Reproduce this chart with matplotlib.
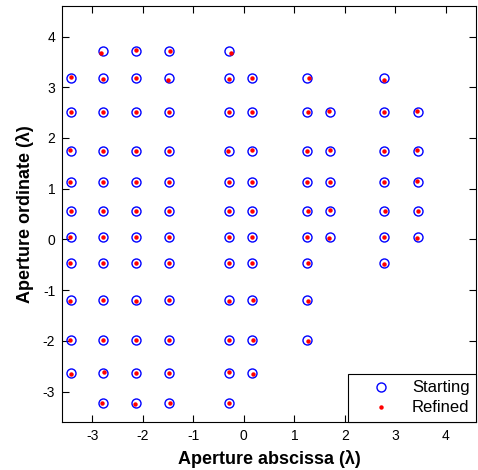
import matplotlib.pyplot as plt

plt.rcParams['font.family'] = ['Liberation Sans', 'DejaVu Sans']
plt.rcParams['axes.unicode_minus'] = False

# aperture grid (in wavelengths)
cols = [-3.43, -2.80, -2.14, -1.48, -0.29, 0.17, 1.26, 1.70, 2.78, 3.44]
rows = [3.71, 3.18, 2.52, 1.74, 1.13, 0.57, 0.04, -0.47, -1.20, -1.99, -2.63, -3.23]

# which columns are populated in each row (indices into cols)
row_cols = [
    [1, 2, 3, 4],
    [0, 1, 2, 3, 4, 5, 6, 8],
    [0, 1, 2, 3, 4, 5, 6, 7, 8, 9],
    [0, 1, 2, 3, 4, 5, 6, 7, 8, 9],
    [0, 1, 2, 3, 4, 5, 6, 7, 8, 9],
    [0, 1, 2, 3, 4, 5, 6, 7, 8, 9],
    [0, 1, 2, 3, 4, 5, 6, 7, 8, 9],
    [0, 1, 2, 3, 4, 5, 6, 8],
    [0, 1, 2, 3, 4, 5, 6],
    [0, 1, 2, 3, 4, 5, 6],
    [0, 1, 2, 3, 4, 5],
    [1, 2, 3, 4],
]

# refined shifts (dx, dy) per point, same order as row_cols
row_shift = [
    [(-0.03, -0.03), (0.0, 0.02), (0.01, 0.0), (0.03, -0.03)],
    [(0.0, 0.02), (0.0, -0.02), (0.0, 0.0), (-0.02, -0.03), (0.0, -0.02), (0.0, 0.01), (0.04, 0.0), (0.0, -0.03)],
    [(0.0, 0.0), (0.0, 0.0), (0.01, 0.0), (0.0, 0.0), (0.0, 0.0), (0.0, 0.0), (0.01, 0.0), (-0.01, 0.01), (-0.01, 0.0), (-0.01, 0.01)],
    [(-0.02, 0.02), (0.0, 0.0), (0.0, 0.0), (0.0, 0.0), (-0.02, 0.0), (0.0, 0.02), (0.0, 0.0), (0.0, 0.02), (0.0, 0.0), (-0.01, 0.02)],
    [(-0.01, 0.0), (0.0, 0.0), (0.0, 0.0), (0.0, 0.0), (0.0, 0.0), (0.0, 0.0), (0.0, 0.0), (0.0, 0.0), (0.0, 0.0), (-0.01, 0.02)],
    [(0.0, 0.0), (0.0, 0.0), (0.0, 0.0), (0.0, 0.0), (0.0, 0.0), (0.0, 0.0), (0.01, 0.0), (0.0, 0.01), (0.01, -0.01), (0.0, 0.0)],
    [(-0.01, 0.0), (0.0, 0.0), (0.0, 0.0), (0.0, 0.0), (-0.01, 0.0), (0.0, 0.0), (0.0, 0.0), (-0.01, -0.02), (0.0, 0.0), (-0.01, -0.02)],
    [(-0.01, 0.0), (0.0, 0.0), (0.0, 0.0), (0.0, 0.0), (-0.01, 0.0), (0.0, 0.0), (0.02, 0.0), (0.0, -0.01)],
    [(-0.01, -0.01), (0.01, 0.0), (0.01, -0.01), (0.0, 0.0), (-0.01, -0.01), (0.02, 0.0), (0.02, -0.01)],
    [(-0.01, 0.0), (0.01, 0.0), (0.01, 0.0), (0.0, 0.0), (-0.01, 0.0), (0.02, 0.0), (0.02, -0.02)],
    [(0.01, -0.02), (0.02, 0.02), (0.01, -0.01), (0.0, 0.0), (-0.01, 0.01), (0.02, -0.02)],
    [(-0.01, 0.0), (-0.02, -0.02), (0.01, 0.0), (0.0, 0.0)],
]

xs, ys, rx, ry = [], [], [], []
for r, idx, sh in zip(rows, row_cols, row_shift):
    for i, (dx, dy) in zip(idx, sh):
        xs.append(cols[i])
        ys.append(r)
        rx.append(cols[i] + dx)
        ry.append(r + dy)

fig = plt.figure(figsize=(4.78, 4.70), dpi=100)
ax = fig.add_axes([0.130, 0.102, 0.866, 0.885])

ax.plot(xs, ys, 'o', ls='none', mfc='none', mec='#0000ff', mew=1.0, ms=6.5, label='Starting')
ax.plot(rx, ry, 'o', ls='none', mfc='red', mec='red', mew=0, ms=3.2, label='Refined')

ax.set_xlim(-3.6, 4.6)
ax.set_ylim(-3.6, 4.6)
ax.set_xticks(range(-3, 5))
ax.set_yticks(range(-3, 5))
ax.tick_params(direction='in', top=True, right=True, length=5, width=0.8, labelsize=10, pad=5)
for s in ax.spines.values():
    s.set_linewidth(0.8)

ax.set_xlabel('Aperture abscissa (λ)', fontsize=13, fontweight='bold', labelpad=5)
ax.set_ylabel('Aperture ordinate (λ)', fontsize=13, fontweight='bold', labelpad=6)

leg = ax.legend(loc='lower right', borderaxespad=0, fancybox=False, framealpha=1,
                edgecolor='black', fontsize=12, handlelength=3.1, handletextpad=0.3,
                borderpad=0.4, labelspacing=0.3, markerscale=1.0)
leg.get_frame().set_linewidth(0.8)

fig.savefig('out.png', dpi=100)
